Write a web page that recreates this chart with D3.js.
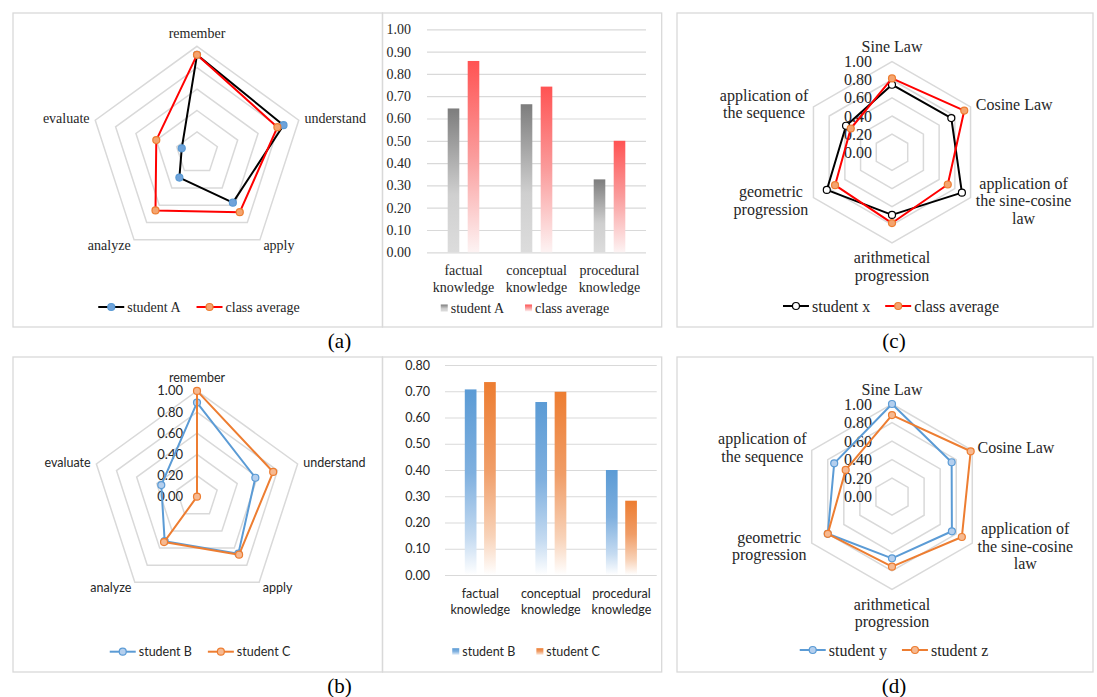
<!DOCTYPE html>
<html lang="en">
<head>
<meta charset="utf-8" />
<title>Student knowledge charts</title>
<script src="https://cdn.jsdelivr.net/npm/d3@7"></script>
<style>
  body { margin: 0; background: #fff; }
  svg { display: block; }
</style>
</head>
<body>
<div id="chart"></div>
<script>
// ---- data ----
const bloomLevels = ['remember', 'understand', 'apply', 'analyze', 'evaluate']
const studentA = [0.92, 0.85, 0.57, 0.28, 0.15]
const classAvgBloom = [0.92, 0.79, 0.68, 0.66, 0.40]
const studentB = [0.89, 0.58, 0.665, 0.52, 0.355]
const studentC = [1.00, 0.757, 0.677, 0.53, 0.00]

const knowledgeTypes = [['factual', 'knowledge'], ['conceptual', 'knowledge'], ['procedural', 'knowledge']]
const studentAKnow = [0.645, 0.664, 0.327]
const classAvgKnow = [0.858, 0.743, 0.50]
const studentBKnow = [0.707, 0.659, 0.40]
const studentCKnow = [0.735, 0.698, 0.283]

const mathTopics = [
  ['Sine Law'],
  ['Cosine Law'],
  ['application of', 'the sine-cosine', 'law'],
  ['arithmetical', 'progression'],
  ['geometric', 'progression'],
  ['application of', 'the sequence']
]
const studentX = [0.745, 0.755, 0.89, 0.69, 0.83, 0.585]
const classAvgMath = [0.815, 0.92, 0.71, 0.78, 0.725, 0.525]
const studentY = [1.00, 0.743, 0.746, 0.665, 0.80, 0.72]
const studentZ = [0.88, 0.98, 0.87, 0.755, 0.80, 0.577]

const radarTicks = [0, 0.2, 0.4, 0.6, 0.8, 1.0]
const barTicksA = [0, 0.1, 0.2, 0.3, 0.4, 0.5, 0.6, 0.7, 0.8, 0.9, 1.0]
const barTicksB = [0, 0.1, 0.2, 0.3, 0.4, 0.5, 0.6, 0.7, 0.8]

// ---- styling ----
const SERIF = '"Liberation Serif", "Times New Roman", serif'
const SANS = 'Lato, "Liberation Sans", sans-serif'
const TEXT = '#262626'
const GRID = '#d9d9d9'
const BLUE = '#5b9bd5'
const ORANGE = '#ed7d31'

const svg = d3.select('#chart').append('svg').attr('width', 1097).attr('height', 697)
const defs = svg.append('defs')

function addGradient(id, stops) {
  const lg = defs.append('linearGradient').attr('id', id)
    .attr('x1', 0).attr('y1', 0).attr('x2', 0).attr('y2', 1)
  stops.forEach(s => lg.append('stop').attr('offset', s[0]).attr('stop-color', s[1]))
}
addGradient('gGray', [[0, '#7d7d7d'], [0.6, '#cfcfcf'], [1, '#dcdcdc']])
addGradient('gRed', [[0, '#ff5353'], [0.5, '#fa9c9c'], [1, '#fdf3f3']])
addGradient('gBlue', [[0, '#5b9bd5'], [0.45, '#7fb0df'], [0.8, '#c5dbf1'], [1, '#ffffff']])
addGradient('gOrange', [[0, '#ed7d31'], [0.45, '#f09d67'], [0.8, '#f8d3b9'], [1, '#ffffff']])

// panel frames [x0, y0, x1, y1]
const frames = [
  [13, 13, 382.5, 327], [382.5, 13, 661.7, 327], [677, 13, 1093, 327],
  [13, 357, 382.5, 672], [382.5, 357, 661.7, 672], [677, 357, 1093, 672]
]
svg.selectAll('rect.frame').data(frames).enter().append('rect')
  .attr('class', 'frame')
  .attr('x', d => d[0]).attr('y', d => d[1])
  .attr('width', d => d[2] - d[0]).attr('height', d => d[3] - d[1])
  .attr('fill', 'none').attr('stroke', GRID).attr('stroke-width', 1.3)

function styleText(sel, font, size) {
  return sel.attr('font-family', font).attr('font-size', size).attr('fill', TEXT)
}

// ---- radar chart ----
function drawRadar(o) {
  const n = o.axes.length
  const r = d3.scaleLinear().domain([0, 1]).range([0, o.radius])
  const ring = d3.lineRadial()
    .angle((d, i) => (i * 2 * Math.PI) / n)
    .radius(d => r(d))
    .curve(d3.curveLinearClosed)
  const g = svg.append('g').attr('transform', `translate(${o.cx},${o.cy})`)

  g.selectAll('path.grid').data(radarTicks.slice(1)).enter().append('path')
    .attr('class', 'grid')
    .attr('d', t => ring(d3.range(n).map(() => t)))
    .attr('fill', 'none').attr('stroke', GRID).attr('stroke-width', 1.5)

  if (o.tickDx) {
    styleText(g.selectAll('text.tick').data(radarTicks).enter().append('text'), o.font, o.tickSize || o.size)
      .attr('class', 'tick')
      .attr('x', o.tickDx).attr('y', t => -r(t)).attr('dy', '0.35em')
      .attr('text-anchor', 'end')
      .text(d3.format('.2f'))
  }

  // axis labels
  o.axes.forEach((lines, i) => {
    const a = -Math.PI / 2 + (i * 2 * Math.PI) / n
    const ca = Math.cos(a), sa = Math.sin(a)
    const ax = (o.radius + 6) * ca, ay = (o.radius + 6) * sa
    const lh = o.size * 1.1
    const blockH = lines.length * lh
    let top
    if (Math.abs(ca) < 0.01) top = sa < 0 ? ay - blockH : ay
    else top = ay - blockH / 2
    const texts = lines.map((s, k) =>
      styleText(g.append('text'), o.font, o.size)
        .attr('y', top + lh * (k + 0.5)).attr('dy', '0.35em')
        .attr('text-anchor', 'middle').text(s))
    const w = d3.max(texts, t => t.node().getComputedTextLength())
    let x = ax
    if (ca > 0.01) x = ax + w / 2
    else if (ca < -0.01) x = ax - w / 2
    texts.forEach(t => t.attr('x', x))
  })

  o.series.forEach(s => {
    g.append('path').attr('d', ring(s.values))
      .attr('fill', 'none').attr('stroke', s.line).attr('stroke-width', 2)
      .attr('stroke-linejoin', 'round')
    g.selectAll(null).data(s.values).enter().append('circle')
      .attr('cx', (d, i) => d3.pointRadial((i * 2 * Math.PI) / n, r(d))[0])
      .attr('cy', (d, i) => d3.pointRadial((i * 2 * Math.PI) / n, r(d))[1])
      .attr('r', 3.5).attr('fill', s.fill).attr('stroke', s.stroke).attr('stroke-width', 1.2)
  })
}

// ---- grouped bar chart ----
function drawBars(o) {
  const g = svg.append('g')
  const x0 = d3.scaleBand().domain(d3.range(o.cats.length)).range([o.left, o.right])
  const x1 = d3.scaleBand().domain(d3.range(o.series.length)).range([0, x0.bandwidth()])
    .paddingInner(o.padInner).paddingOuter(o.padOuter)
  const y = d3.scaleLinear().domain([0, o.max]).range([o.bottom, o.top])

  const axis = g.append('g').attr('transform', `translate(${o.left},0)`)
    .call(d3.axisLeft(y).tickValues(o.ticks).tickSize(-(o.right - o.left))
      .tickPadding(o.tickPad).tickFormat(d3.format('.2f')))
  axis.select('.domain').remove()
  axis.selectAll('line').attr('stroke', GRID).attr('stroke-width', 1.2)
  styleText(axis.selectAll('text'), o.font, o.size)

  o.series.forEach((s, si) => {
    g.selectAll(null).data(s.values).enter().append('rect')
      .attr('x', (d, i) => x0(i) + x1(si))
      .attr('width', x1.bandwidth())
      .attr('y', d => y(d))
      .attr('height', d => y(0) - y(d))
      .attr('fill', `url(#${s.grad})`)
  })

  o.cats.forEach((lines, i) => {
    lines.forEach((s, k) => {
      styleText(g.append('text'), o.font, o.size)
        .attr('x', x0(i) + x0.bandwidth() / 2)
        .attr('y', o.labelY + k * o.lh).attr('dy', '0.35em')
        .attr('text-anchor', 'middle').text(s)
    })
  })
}

// ---- legends ----
function drawLegend(o) {
  const lg = svg.append('g')
  let x = 0
  o.items.forEach(it => {
    const ig = lg.append('g').attr('transform', `translate(${x},0)`)
    let tx
    if (o.kind === 'line') {
      ig.append('line').attr('x1', 0).attr('x2', 26).attr('y1', 0).attr('y2', 0)
        .attr('stroke', it.line).attr('stroke-width', 2)
      ig.append('circle').attr('cx', 13).attr('cy', 0).attr('r', 3.5)
        .attr('fill', it.fill).attr('stroke', it.stroke).attr('stroke-width', 1.2)
      tx = 29
    } else {
      ig.append('rect').attr('x', 0).attr('y', -3.5).attr('width', 7).attr('height', 7)
        .attr('fill', `url(#${it.grad})`)
      tx = 10
    }
    const t = styleText(ig.append('text'), o.font, o.size)
      .attr('x', tx).attr('dy', '0.35em').text(it.name)
    x += tx + t.node().getComputedTextLength() + o.gap
  })
  const total = x - o.gap
  lg.attr('transform', `translate(${o.cx - total / 2},${o.y})`)
}

// (a) radar
drawRadar({
  cx: 197, cy: 153.3, radius: 107, axes: bloomLevels.map(d => [d]), font: SERIF, size: 14,
  series: [
    { values: studentA, line: '#000', fill: '#6fa3da', stroke: BLUE },
    { values: classAvgBloom, line: '#ff0000', fill: '#f4a46f', stroke: ORANGE }
  ]
})
drawLegend({
  cx: 199, y: 307, font: SERIF, size: 14, gap: 16, kind: 'line',
  items: [
    { name: 'student A', line: '#000', fill: '#6fa3da', stroke: BLUE },
    { name: 'class average', line: '#ff0000', fill: '#f4a46f', stroke: ORANGE }
  ]
})

// (a) bars
drawBars({
  left: 427, right: 646, bottom: 252.3, top: 29.3, max: 1, ticks: barTicksA,
  cats: knowledgeTypes, font: SERIF, size: 14, tickPad: 16, labelY: 270, lh: 17,
  padInner: 0.42, padOuter: 1.035,
  series: [{ values: studentAKnow, grad: 'gGray' }, { values: classAvgKnow, grad: 'gRed' }]
})
drawLegend({
  cx: 525, y: 308, font: SERIF, size: 14, gap: 21, kind: 'swatch',
  items: [{ name: 'student A', grad: 'gGray' }, { name: 'class average', grad: 'gRed' }]
})

// (c) radar
drawRadar({
  cx: 892, cy: 152.3, radius: 90.7, axes: mathTopics, font: SERIF, size: 16, tickDx: -20,
  series: [
    { values: studentX, line: '#000', fill: '#fff', stroke: '#000' },
    { values: classAvgMath, line: '#ff0000', fill: '#f4a46f', stroke: ORANGE }
  ]
})
drawLegend({
  cx: 891, y: 306, font: SERIF, size: 16, gap: 15, kind: 'line',
  items: [
    { name: 'student x', line: '#000', fill: '#fff', stroke: '#000' },
    { name: 'class average', line: '#ff0000', fill: '#f4a46f', stroke: ORANGE }
  ]
})

// (b) radar
drawRadar({
  cx: 197, cy: 496.7, radius: 105.8, axes: bloomLevels.map(d => [d]), font: SANS, size: 12.5,
  tickSize: 13, tickDx: -14,
  series: [
    { values: studentB, line: BLUE, fill: '#b4cfee', stroke: BLUE },
    { values: studentC, line: ORANGE, fill: '#f6b991', stroke: ORANGE }
  ]
})
drawLegend({
  cx: 200, y: 651.7, font: SANS, size: 12.5, gap: 16, kind: 'line',
  items: [
    { name: 'student B', line: BLUE, fill: '#b4cfee', stroke: BLUE },
    { name: 'student C', line: ORANGE, fill: '#f6b991', stroke: ORANGE }
  ]
})

// (b) bars
drawBars({
  left: 445, right: 656.7, bottom: 575, top: 365, max: 0.8, ticks: barTicksB,
  cats: knowledgeTypes, font: SANS, size: 12.5, tickPad: 15, labelY: 593.3, lh: 16.7,
  padInner: 0.394, padOuter: 1.026,
  series: [{ values: studentBKnow, grad: 'gBlue' }, { values: studentCKnow, grad: 'gOrange' }]
})
drawLegend({
  cx: 526, y: 651.7, font: SANS, size: 12.5, gap: 21, kind: 'swatch',
  items: [{ name: 'student B', grad: 'gBlue' }, { name: 'student C', grad: 'gOrange' }]
})

// (d) radar
drawRadar({
  cx: 892, cy: 496.7, radius: 92.7, axes: mathTopics, font: SERIF, size: 16, tickDx: -20,
  series: [
    { values: studentY, line: BLUE, fill: '#b4cfee', stroke: BLUE },
    { values: studentZ, line: ORANGE, fill: '#f6b991', stroke: ORANGE }
  ]
})
drawLegend({
  cx: 894, y: 650, font: SERIF, size: 16, gap: 15, kind: 'line',
  items: [
    { name: 'student y', line: BLUE, fill: '#b4cfee', stroke: BLUE },
    { name: 'student z', line: ORANGE, fill: '#f6b991', stroke: ORANGE }
  ]
})

// captions
const captions = [['(a)', 339.5, 340.7], ['(c)', 894, 340.7], ['(b)', 339.5, 685.7], ['(d)', 894, 685.7]]
captions.forEach(c => {
  svg.append('text').attr('x', c[1]).attr('y', c[2]).attr('dy', '0.35em')
    .attr('text-anchor', 'middle').attr('font-family', SERIF).attr('font-size', 21)
    .attr('fill', '#000').text(c[0])
})
</script>
</body>
</html>
